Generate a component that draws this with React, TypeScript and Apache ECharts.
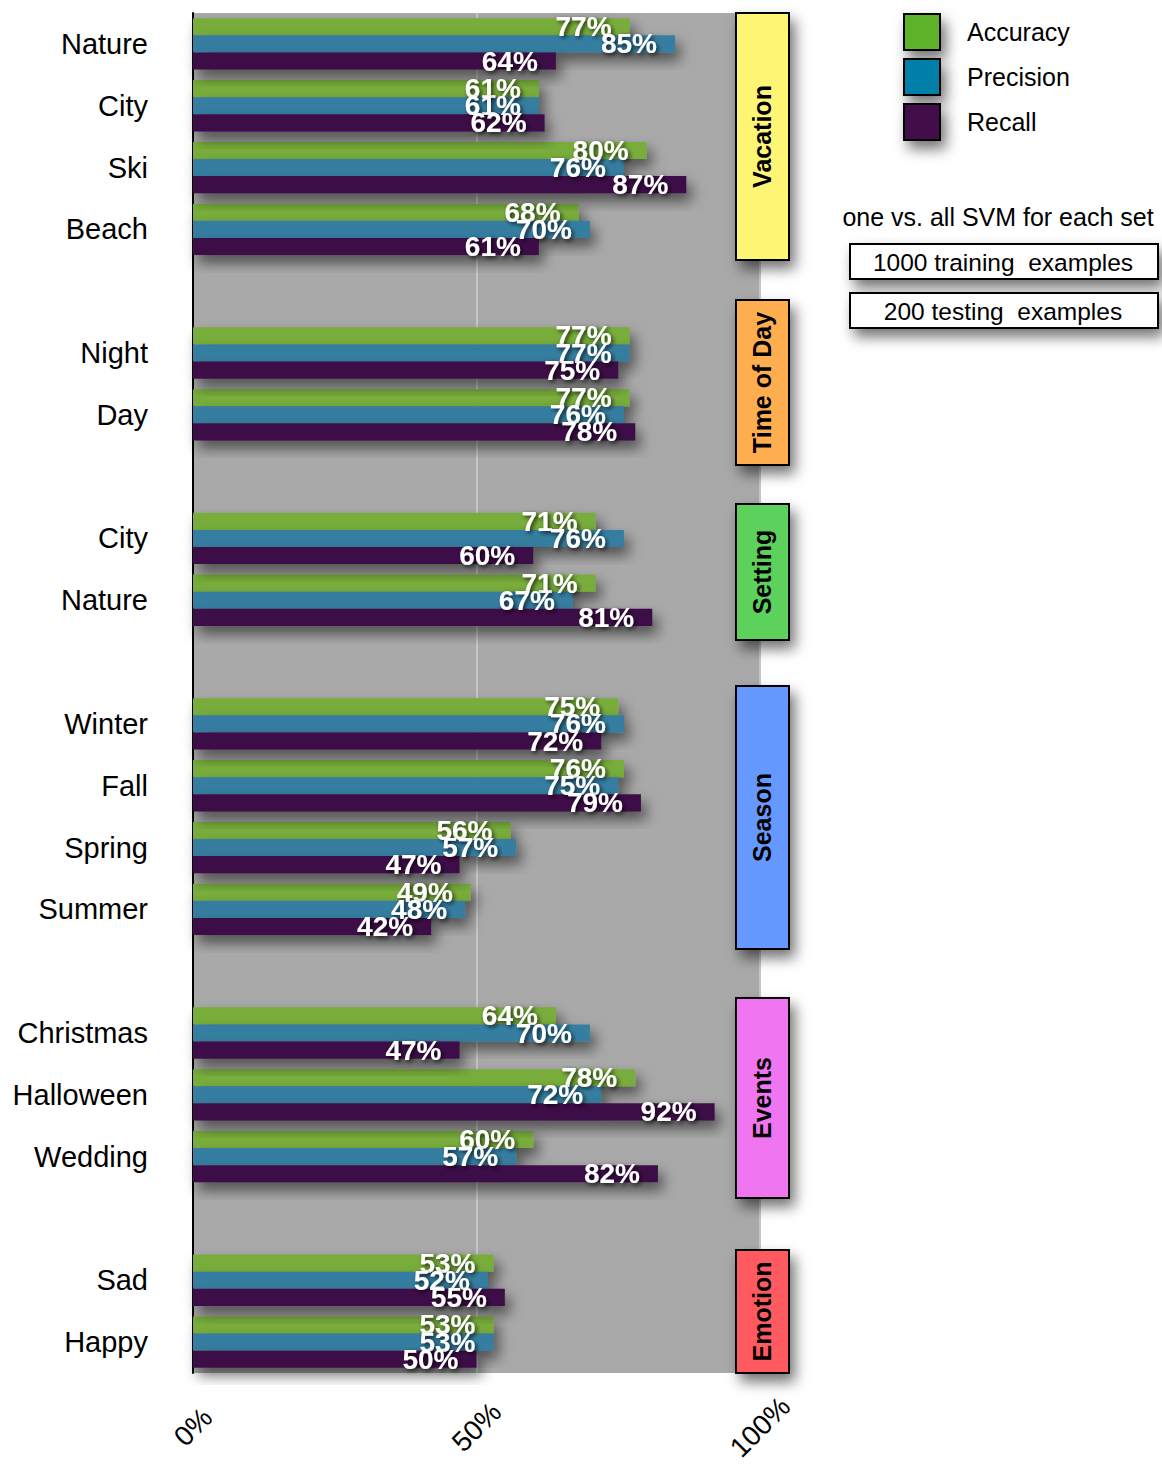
import React, { useEffect, useRef } from "react";
import * as echarts from "echarts";

const categories = [
  "Nature", "City", "Ski", "Beach", "",
  "Night", "Day", "",
  "City", "Nature", "",
  "Winter", "Fall", "Spring", "Summer", "",
  "Christmas", "Halloween", "Wedding", "",
  "Sad", "Happy",
];

const accuracy = [77, 61, 80, 68, null, 77, 77, null, 71, 71, null, 75, 76, 56, 49, null, 64, 78, 60, null, 53, 53];
const precision = [85, 61, 76, 70, null, 77, 76, null, 76, 67, null, 76, 75, 57, 48, null, 70, 72, 57, null, 52, 53];
const recall = [64, 62, 87, 61, null, 75, 78, null, 60, 81, null, 72, 79, 47, 42, null, 47, 92, 82, null, 55, 50];

const seriesNames = ["Accuracy", "Precision", "Recall"];
const barColors = ["#78AD3B", "#347EA1", "#3D0B47"];
const legendColors = ["#5DB22A", "#0080A8", "#420D4A"];

const groupNames = ["Vacation", "Time of Day", "Setting", "Season", "Events", "Emotion"];
const groupColors = ["#FFF575", "#FFAE4F", "#5CD15C", "#6699FF", "#F075F0", "#FF5A5F"];
const groupTops = [13, 300, 504, 686, 998, 1250];
const groupBottoms = [260, 465, 640, 949, 1198, 1373];

const xTicks = [0, 50, 100];

const subtitle = "one vs. all SVM for each set";
const infoLines = ["1000 training  examples", "200 testing  examples"];

const FONT = "Liberation Sans, Arial, Helvetica, sans-serif";

export default function App() {
  const ref = useRef<HTMLDivElement>(null);
  useEffect(() => {
    if (!ref.current) return;
    const chart = echarts.init(ref.current, undefined, { renderer: "svg" });
    const shadow = {
      shadowColor: "rgba(0,0,0,0.55)",
      shadowBlur: 14,
      shadowOffsetX: 5,
      shadowOffsetY: 8,
    };
    const dataSets = [accuracy, precision, recall];
    const series = dataSets.map((d, i) => ({
      name: seriesNames[i],
      type: "bar",
      data: d.map((v) => (v === null ? "-" : v)),
      barGap: "0%",
      barCategoryGap: "17%",
      itemStyle: { color: barColors[i], ...shadow },
      label: {
        show: true,
        position: "insideRight",
        distance: 18,
        formatter: "{c}%",
        color: "#fff",
        fontWeight: "bold",
        fontSize: 28,
        fontFamily: FONT,
        textShadowColor: "rgba(0,0,0,0.75)",
        textShadowBlur: 4,
        textShadowOffsetX: 2,
        textShadowOffsetY: 2,
      },
      emphasis: { disabled: true },
    }));

    const graphic: any[] = [];
    groupNames.forEach((name, i) => {
      const top = groupTops[i];
      const h = groupBottoms[i] - top;
      graphic.push({
        type: "rect",
        shape: { x: 736, y: top, width: 53, height: h },
        style: {
          fill: groupColors[i],
          stroke: "#000",
          lineWidth: 2,
          ...shadow,
        },
        z: 10,
      });
      graphic.push({
        type: "text",
        x: 762,
        y: top + h / 2,
        rotation: Math.PI / 2,
        style: {
          text: name,
          font: `bold 25px ${FONT}`,
          fill: "#000",
          textAlign: "center",
          textVerticalAlign: "middle",
        },
        z: 11,
      });
    });
    graphic.push({
      type: "text",
      x: 998,
      y: 217,
      style: {
        text: subtitle,
        font: `25px ${FONT}`,
        fill: "#000",
        textAlign: "center",
        textVerticalAlign: "middle",
      },
      z: 10,
    });
    infoLines.forEach((t, i) => {
      const y = i === 0 ? 244 : 293;
      graphic.push({
        type: "rect",
        shape: { x: 850, y, width: 308, height: 35 },
        style: { fill: "#fff", stroke: "#000", lineWidth: 2, ...shadow },
        z: 10,
      });
      graphic.push({
        type: "text",
        x: 1003,
        y: y + 18,
        style: {
          text: t,
          font: `24.5px ${FONT}`,
          fill: "#000",
          textAlign: "center",
          textVerticalAlign: "middle",
        },
        z: 11,
      });
    });

    chart.setOption({
      animation: false,
      grid: {
        left: 193,
        top: 13,
        width: 567,
        height: 1360,
        show: true,
        backgroundColor: "#A9A9A9",
        borderWidth: 0,
        containLabel: false,
        outerBoundsMode: "none",
      },
      legend: {
        orient: "vertical",
        left: 903,
        top: 13,
        padding: 0,
        itemWidth: 36,
        itemHeight: 36,
        itemGap: 7,
        icon: "rect",
        selectedMode: false,
        textStyle: {
          fontSize: 25,
          fontFamily: FONT,
          color: "#000",
          padding: [0, 0, 0, 22],
        },
        data: seriesNames.map((n, i) => ({
          name: n,
          itemStyle: {
            color: legendColors[i],
            borderColor: "#000",
            borderWidth: 2,
            ...shadow,
          },
        })),
      },
      xAxis: {
        type: "value",
        min: 0,
        max: 100,
        interval: 50,
        axisLine: { show: false },
        axisTick: { show: false },
        splitLine: { show: true, lineStyle: { color: "#C6C6C6", width: 2 } },
        axisLabel: {
          formatter: (v: number) => (xTicks.includes(v) ? `${v}%` : ""),
          rotate: 45,
          align: "center",
          verticalAlign: "middle",
          margin: 54,
          fontSize: 28,
          fontFamily: FONT,
          color: "#000",
        },
      },
      yAxis: {
        type: "category",
        inverse: true,
        data: categories,
        axisLine: { show: true, lineStyle: { color: "#000", width: 2 } },
        axisTick: { show: false },
        splitLine: { show: false },
        axisLabel: {
          margin: 45,
          fontSize: 29,
          fontFamily: FONT,
          color: "#000",
          interval: 0,
        },
      },
      series,
      graphic,
    });
    return () => chart.dispose();
  }, []);
  return <div ref={ref} style={{ width: 1162, height: 1467, position: "absolute", left: 0, top: 0 }} />;
}
